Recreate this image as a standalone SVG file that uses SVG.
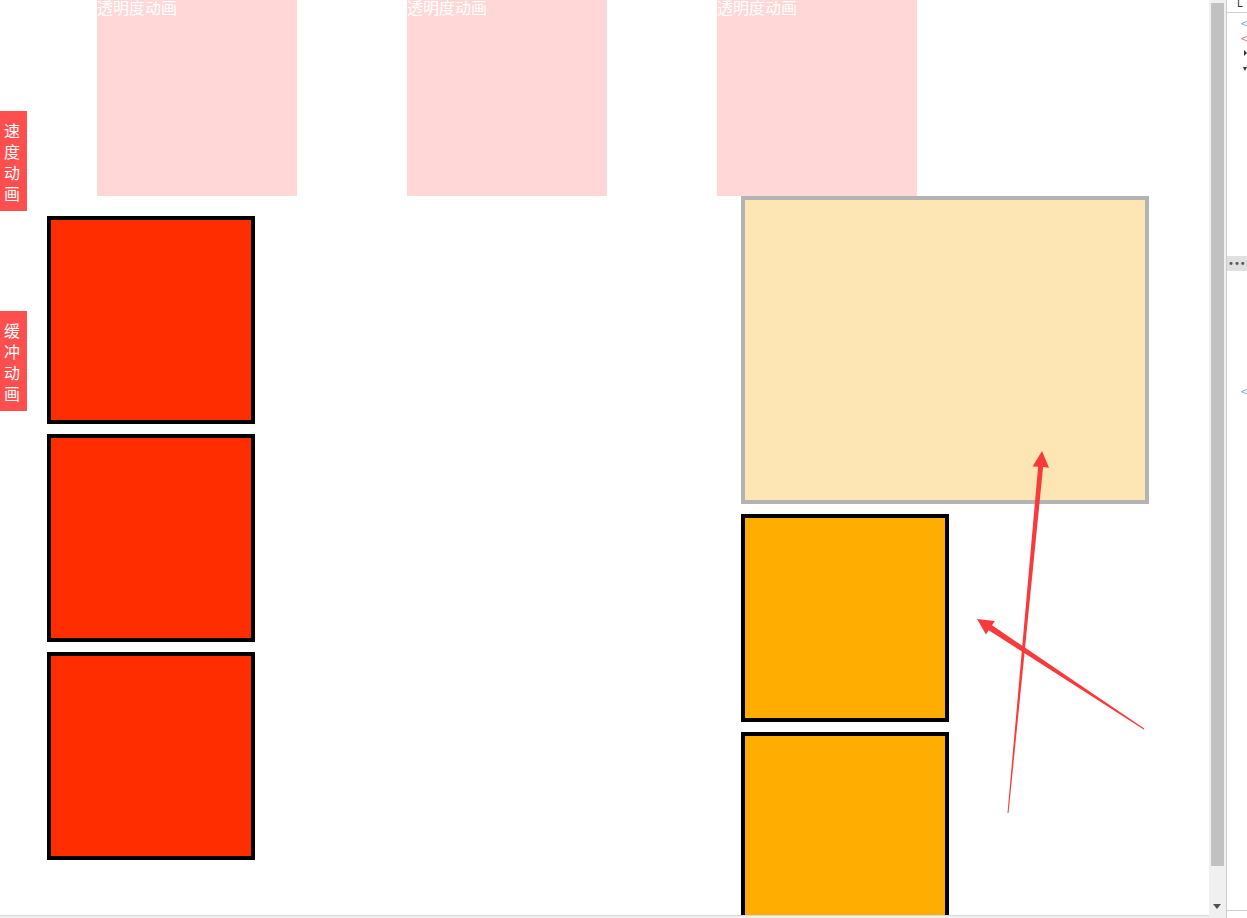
<svg xmlns="http://www.w3.org/2000/svg" width="1247" height="918" viewBox="0 0 1247 918">
<style>
.pink{fill:#ffd7d7}
.ptxt{font-family:"Noto Sans CJK SC","Noto Sans CJK JP",sans-serif;font-size:16px;fill:#ffffff}
.tab{fill:#ff4e4e}
.ttxt{font-family:"Noto Sans CJK SC","Noto Sans CJK JP",sans-serif;font-size:16px;fill:#ffffff;text-anchor:middle}
.red{fill:#ff2d00;stroke:#000;stroke-width:4}
.orange{fill:#ffad00;stroke:#000;stroke-width:4}
.arrow{fill:#f83a3a}
.dt{font-family:"DejaVu Sans",sans-serif;font-size:10px}
</style>
<rect width="1247" height="918" fill="#ffffff"/>
<g id="fade1"><rect class="pink" x="97" y="0" width="200" height="196"/><text class="ptxt" x="97" y="14">透明度动画</text></g>
<g id="fade2"><rect class="pink" x="407" y="0" width="200" height="196"/><text class="ptxt" x="407" y="14">透明度动画</text></g>
<g id="fade3"><rect class="pink" x="717" y="0" width="200" height="196"/><text class="ptxt" x="717" y="14">透明度动画</text></g>
<g id="tab-speed"><rect class="tab" x="0" y="111" width="27" height="100"/>
<text class="ttxt" x="12" y="137">速</text><text class="ttxt" x="12" y="158">度</text><text class="ttxt" x="12" y="179">动</text><text class="ttxt" x="12" y="200">画</text></g>
<g id="tab-buffer"><rect class="tab" x="0" y="311" width="27" height="100"/>
<text class="ttxt" x="12" y="337">缓</text><text class="ttxt" x="12" y="358">冲</text><text class="ttxt" x="12" y="379">动</text><text class="ttxt" x="12" y="400">画</text></g>
<g id="red1"><rect class="red" x="49" y="218" width="204" height="204"/></g>
<g id="red2"><rect class="red" x="49" y="436" width="204" height="204"/></g>
<g id="red3"><rect class="red" x="49" y="654" width="204" height="204"/></g>
<g id="panel"><rect x="743" y="198" width="404" height="304" fill="#fde6b4" stroke="#b3b3b3" stroke-width="4"/></g>
<g id="orange1"><rect class="orange" x="743" y="516" width="204" height="204"/></g>
<g id="orange2"><rect class="orange" x="743" y="734" width="204" height="204"/></g>
<g id="connectors">
<polygon class="arrow" points="1007.5,813 1038.1,466.7 1032.6,466.5 1042,451 1049,467.8 1043.1,467.1 1008.5,813"/>
<polygon class="arrow" points="1144.3,728.6 992.1,625.3 994.8,621.1 977,619 986.0,634.5 988.7,630.3 1143.7,729.4"/>
</g>
<g id="chrome">
<rect x="0" y="915" width="1209" height="3" fill="#f0f0f0"/>
<line x1="0" y1="915.5" x2="1209" y2="915.5" stroke="#d8d8d8"/>
<rect x="1209" y="0" width="17" height="918" fill="#f0f0f0"/>
<rect x="1211" y="3" width="13" height="863" fill="#c1c1c1"/>
<polygon points="1213,904 1221,904 1217,909" fill="#505050"/>
<line x1="1226.5" y1="0" x2="1226.5" y2="918" stroke="#cccccc"/>
<line x1="1227" y1="12.5" x2="1247" y2="12.5" stroke="#d0d0d0"/>
<line x1="1227" y1="910.5" x2="1247" y2="910.5" stroke="#d0d0d0"/>
<rect x="1227" y="256" width="20" height="15" fill="#e0e0e0"/>
<text class="dt" x="1228" y="267" fill="#555">•••</text>
<text class="dt" x="1240" y="27" fill="#8aa8d8">&lt;</text>
<text class="dt" x="1240" y="42" fill="#c88">&lt;</text>
<polygon points="1244,50 1247,53 1244,56" fill="#333"/>
<polygon points="1243,67 1247,67 1245,71" fill="#333"/>
<text class="dt" x="1240" y="395" fill="#8aa8d8">&lt;</text>
<text class="dt" x="1237" y="7" fill="#333">L</text>
</g>
</svg>
